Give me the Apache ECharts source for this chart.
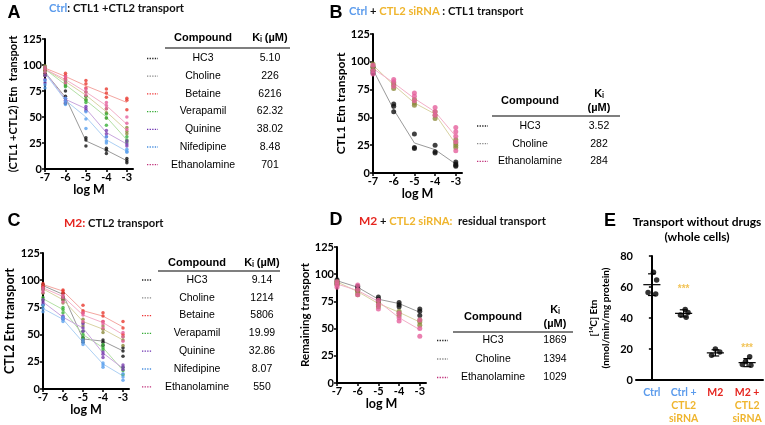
<!DOCTYPE html>
<html><head><meta charset="utf-8">
<script src="https://cdn.jsdelivr.net/npm/echarts@6/dist/echarts.min.js"></script>
<style>html,body{margin:0;padding:0;background:#fff}#c{width:765px;height:425px}</style>
</head><body><div id="c"></div>
<script>
// ---------------- DATA ----------------
const logM = [-7, -6, -5, -4, -3];
const xTicks = [-7, -6, -5, -4, -3];
const yTicksPct = [0, 25, 50, 75, 100, 125];

// Panel A: Ctrl (CTL1 + CTL2)
const compoundsA = ['HC3', 'Choline', 'Betaine', 'Verapamil', 'Quinine', 'Nifedipine', 'Ethanolamine'];
const kiA = ['5.10', '226', '6216', '62.32', '38.02', '8.48', '701'];
const meansA = [
  [93, 69, 27, 18, 8],
  [96, 84, 71, 55, 37],
  [97, 89, 80, 72, 64],
  [96, 81, 66, 50, 28],
  [93, 67, 58, 35, 24],
  [92, 66, 50, 28, 17],
  [96, 86, 74, 61, 43]
];
const repsA = [
  [[95, 92, 90], [75, 70, 63], [30, 28, 22], [20, 18, 15], [10, 8, 6]],
  [[97, 95, 90], [86, 83, 80], [74, 70, 67], [58, 54, 49], [40, 36, 34]],
  [[99, 97, 95], [92, 90, 87], [85, 82, 78], [77, 73, 69], [68, 66, 57]],
  [[99, 97, 94], [84, 81, 79], [70, 66, 64], [53, 49, 42], [31, 28, 26]],
  [[90, 86, 83], [68, 66, 64], [60, 58, 56], [37, 34, 31], [27, 24, 22]],
  [[85, 81, 78], [68, 65, 62], [55, 48, 39], [31, 27, 25], [19, 17, 16]],
  [[98, 96, 93], [89, 86, 83], [77, 74, 71], [64, 61, 58], [50, 44, 38]]
];

// Panel B: Ctrl + CTL2 siRNA (CTL1)
const compoundsB = ['HC3', 'Choline', 'Ethanolamine'];
const kiB = ['3.52', '282', '284'];
const meansB = [
  [93, 57, 27, 21, 8],
  [97, 79, 63, 53, 26],
  [94, 81, 67, 55, 33]
];
const repsB = [
  [[95, 92, 90], [62, 60, 55], [35, 23, 22], [25, 19, 18], [10, 8, 7, 6]],
  [[98, 96, 93], [81, 79, 76], [66, 63, 61], [55, 52, 49], [30, 27, 25, 23]],
  [[97, 92, 89], [84, 82, 78], [72, 69, 65], [59, 55, 52], [41, 37, 33, 28, 20]]
];

// Panel C: M2 (CTL2)
const compoundsC = ['HC3', 'Choline', 'Betaine', 'Verapamil', 'Quinine', 'Nifedipine', 'Ethanolamine'];
const kiC = ['9.14', '1214', '5806', '19.99', '32.86', '8.07', '550'];
const meansC = [
  [95, 87, 46, 44, 35],
  [92, 82, 62, 55, 45],
  [96, 90, 72, 67, 57],
  [83, 73, 50, 38, 17],
  [80, 66, 56, 33, 19],
  [74, 64, 43, 23, 12],
  [93, 85, 68, 61, 50]
];
const repsC = [
  [[96, 94, 92], [88, 84, 82], [47, 45, 43], [45, 43, 40], [38, 35, 30]],
  [[93, 91, 88], [85, 82, 79], [64, 61, 58], [58, 55, 52], [48, 45, 40]],
  [[97, 95, 94], [91, 90, 88], [77, 72, 70], [70, 67, 62], [62, 56, 50]],
  [[84, 82, 77], [75, 73, 70], [53, 50, 47], [41, 38, 36], [20, 17, 13]],
  [[82, 80, 78], [67, 66, 64], [60, 56, 53], [34, 32, 29], [22, 20, 18]],
  [[77, 74, 71], [66, 64, 62], [45, 43, 41], [24, 22, 20], [14, 11, 8]],
  [[93, 91, 89], [86, 84, 80], [70, 68, 62], [62, 60, 56], [52, 48, 44]]
];

// Panel D: M2 + CTL2 siRNA (residual)
const compoundsD = ['HC3', 'Choline', 'Ethanolamine'];
const kiD = ['1869', '1394', '1029'];
const meansD = [
  [94, 88, 77, 73, 65],
  [93, 84, 73, 65, 56],
  [91, 85, 75, 60, 49]
];
const repsD = [
  [[95, 93, 91], [89, 87, 85], [79, 77, 75], [74, 72, 70], [68, 66, 62]],
  [[93, 92, 90], [85, 83, 81], [74, 72, 70], [66, 64, 62], [58, 56, 53]],
  [[93, 90, 88], [90, 86, 81], [76, 72, 68], [64, 60, 57], [58, 50, 43]]
];

// Panel E: Transport without drugs
const catsE = ['Ctrl', 'Ctrl +\nCTL2\nsiRNA', 'M2', 'M2 +\nCTL2\nsiRNA'];
const valsE = [[69.5, 64.5, 56.5, 55.5], [45.5, 43.5, 42, 40.5], [20, 18, 16], [15, 12, 10, 9.5]];
const jitterE = [[0.05, 0.15, -0.12, 0.12], [0.05, 0.14, -0.1, 0.08], [0.0, 0.14, -0.12], [0.08, -0.05, -0.15, 0.12]];
const meanE = [61.5, 43, 17.5, 11.2];
const sdE = [7, 2.3, 2, 2.6];
const starsE = [[1, 58.5], [3, 20.5]];

// ---------------- STYLE ----------------
const BLUE = '#5b9bec', YEL = '#efb52e', RED = '#e5251f';
const pointColor = {HC3: '#111', Choline: '#8c8a3c', Betaine: '#e8392f', Verapamil: '#39b03a',
  Quinine: '#7b3fb0', Nifedipine: '#5aa0ee', Ethanolamine: '#e5609c'};
const lineColor = {HC3: '#9a9a9a', Choline: '#d9d3a3', Betaine: '#f4a6a1', Verapamil: '#b3e0a5',
  Quinine: '#c9a6de', Nifedipine: '#acd0f4', Ethanolamine: '#f3afc8'};
const keyColor = {HC3: '#222', Choline: '#888', Betaine: '#e33', Verapamil: '#3a3',
  Quinine: '#6a2fb0', Nifedipine: '#4a90e0', Ethanolamine: '#c0307a'};
const AX_FONT = 'Lato';
const TB_FONT = 'Liberation Sans';

const grids = [
  {left: 45, top: 39, width: 88, height: 130},
  {left: 373, top: 34, width: 89, height: 139},
  {left: 43, top: 253, width: 86, height: 136},
  {left: 337, top: 247, width: 89, height: 136},
  {left: 636, top: 256, width: 127, height: 128}
];
const yNames = ['(CTL1 +CTL2) Etn  transport', 'CTL1 Etn transport', 'CTL2 Etn transport', 'Remaining transport'];
const yNameSize = [11, 12, 12.5, 11.5];
const yNameGap = [25, 22, 23, 20];

const axisLine = {show: true, lineStyle: {color: '#000', width: 2}};
const axisTick = {show: true, length: 3, lineStyle: {color: '#000', width: 1.5}};
const lbl = {color: '#000', fontWeight: 'bold', fontSize: 11, fontFamily: AX_FONT, margin: 3};

const xAxes = [], yAxes = [], series = [];
for (let g = 0; g < 4; g++) {
  xAxes.push({gridIndex: g, type: 'value', min: -7, max: -2.7,
    axisLine, axisTick: Object.assign({customValues: xTicks}, axisTick),
    axisLabel: Object.assign({customValues: xTicks}, lbl), splitLine: {show: false},
    name: 'log M', nameLocation: 'middle', nameGap: 13,
    nameTextStyle: {color: '#000', fontWeight: 'bold', fontSize: 12.5, fontFamily: AX_FONT}});
  yAxes.push({gridIndex: g, type: 'value', min: 0, max: 125, interval: 25,
    axisLine, axisTick, axisLabel: lbl, splitLine: {show: false},
    name: yNames[g], nameLocation: 'middle', nameRotate: 90, nameGap: yNameGap[g],
    nameTextStyle: {color: '#000', fontWeight: 'bold', fontSize: yNameSize[g], fontFamily: AX_FONT}});
}
// Panel E axes
xAxes.push({gridIndex: 4, type: 'category', data: catsE, axisLine, axisTick: {show: false},
  axisLabel: {interval: 0, margin: 6, lineHeight: 13, fontFamily: AX_FONT, fontWeight: 'bold', fontSize: 10.5,
    formatter: function (v, i) {
      const lines = v.split('\n');
      const keys = [['bl'], ['bl', 'yl', 'yl'], ['rd'], ['rd', 'yl', 'yl']][i];
      return lines.map((t, k) => '{' + keys[k] + '|' + t + '}').join('\n');
    },
    rich: {bl: {color: BLUE, fontWeight: 'bold', fontSize: 10.5, fontFamily: AX_FONT, lineHeight: 13},
      yl: {color: YEL, fontWeight: 'bold', fontSize: 10.5, fontFamily: AX_FONT, lineHeight: 13},
      rd: {color: RED, fontWeight: 'bold', fontSize: 10.5, fontFamily: AX_FONT, lineHeight: 13}}}});
xAxes.push({gridIndex: 4, type: 'value', min: -0.5, max: 3.5, show: false});
yAxes.push({gridIndex: 4, type: 'value', min: 0, max: 80, interval: 20, axisLine, axisTick,
  axisLabel: lbl, splitLine: {show: false},
  name: '[¹⁴C] Etn\n(nmol/min/mg protein)', nameLocation: 'middle', nameRotate: 90, nameGap: 24,
  nameTextStyle: {color: '#000', fontWeight: 'bold', fontSize: 10, lineHeight: 12, fontFamily: AX_FONT}});

function addPanel(g, names, means, reps, sym) {
  names.forEach((n, i) => {
    series.push({type: 'line', xAxisIndex: g, yAxisIndex: g, symbol: 'none', z: 2, silent: true,
      lineStyle: {color: lineColor[n], width: 1}, data: logM.map((x, j) => [x, means[i][j]])});
  });
  names.forEach((n, i) => {
    const d = [];
    reps[i].forEach((arr, j) => arr.forEach(v => d.push([logM[j], v])));
    series.push({type: 'scatter', xAxisIndex: g, yAxisIndex: g, symbol: 'circle', symbolSize: sym, z: 3,
      itemStyle: {color: pointColor[n]}, data: d});
  });
}
addPanel(0, compoundsA, meansA, repsA, 3.5);
addPanel(1, compoundsB, meansB, repsB, 5);
addPanel(2, compoundsC, meansC, repsC, 3.5);
addPanel(3, compoundsD, meansD, repsD, 5);

// Panel E series
const ptsE = [];
valsE.forEach((arr, k) => arr.forEach((v, m) => ptsE.push([k + jitterE[k][m], v])));
series.push({type: 'scatter', xAxisIndex: 5, yAxisIndex: 4, symbolSize: 5.5, itemStyle: {color: '#000'}, data: ptsE, z: 3});
series.push({type: 'custom', xAxisIndex: 5, yAxisIndex: 4, z: 4,
  data: meanE.map((m, k) => [k, m, sdE[k]]),
  renderItem: function (params, api) {
    const k = api.value(0), m = api.value(1), s = api.value(2);
    const a = api.coord([k - 0.27, m]), b = api.coord([k + 0.27, m]);
    const t = api.coord([k, m + s]), u = api.coord([k, m - s]);
    const c1 = api.coord([k - 0.12, m + s]), c2 = api.coord([k + 0.12, m + s]);
    const d1 = api.coord([k - 0.12, m - s]), d2 = api.coord([k + 0.12, m - s]);
    const st = {stroke: '#000', lineWidth: 1.2};
    return {type: 'group', children: [
      {type: 'line', shape: {x1: a[0], y1: a[1], x2: b[0], y2: b[1]}, style: st},
      {type: 'line', shape: {x1: t[0], y1: t[1], x2: u[0], y2: u[1]}, style: st},
      {type: 'line', shape: {x1: c1[0], y1: c1[1], x2: c2[0], y2: c2[1]}, style: st},
      {type: 'line', shape: {x1: d1[0], y1: d1[1], x2: d2[0], y2: d2[1]}, style: st}
    ]};
  }});
series.push({type: 'scatter', xAxisIndex: 5, yAxisIndex: 4, symbolSize: 1, itemStyle: {color: 'rgba(0,0,0,0)'},
  data: starsE, label: {show: true, position: 'inside', formatter: '***', color: YEL, fontWeight: 'bold', fontSize: 10}});

// ---------------- TABLES (text) ----------------
const graphic = [];
function txt(x, y, s, font, color, align) {
  graphic.push({type: 'text', x: x, y: y, silent: true, style: {text: s, font: font, fill: color || '#000',
    textAlign: align || 'center', textVerticalAlign: 'middle', align: align || 'center', verticalAlign: 'middle'}});
}
function table(t, names, kis) {
  txt(t.cx, t.hy, 'Compound', 'bold 11px ' + TB_FONT);
  if (t.kiTwo) {
    txt(t.kx, t.hy - 7, 'Kᵢ', 'bold 11px ' + TB_FONT);
    txt(t.kx, t.hy + 7, '(µM)', 'bold 11px ' + TB_FONT);
  } else {
    txt(t.kx, t.hy, 'Kᵢ (µM)', 'bold 11px ' + TB_FONT);
  }
  graphic.push({type: 'line', silent: true, shape: {x1: t.r1, y1: t.ry, x2: t.r2, y2: t.ry},
    style: {stroke: '#555', lineWidth: 1.5}});
  names.forEach((n, i) => {
    const y = t.y0 + i * t.dy;
    graphic.push({type: 'line', silent: true, shape: {x1: t.m1, y1: y, x2: t.m2, y2: y},
      style: {stroke: keyColor[n], lineWidth: 1.3, lineDash: [1.3, 1.3]}});
    txt(t.cx, y, n, '10.5px ' + TB_FONT);
    txt(t.kx, y, kis[i], '10.5px ' + TB_FONT);
  });
}
table({cx: 203, kx: 270, hy: 38, ry: 48, r1: 165, r2: 290, y0: 58.5, dy: 17.7, m1: 147, m2: 158}, compoundsA, kiA);
table({cx: 530, kx: 599, hy: 101, kiTwo: true, ry: 116, r1: 492, r2: 620, y0: 126, dy: 17.7, m1: 477, m2: 488}, compoundsB, kiB);
table({cx: 197, kx: 262, hy: 263, ry: 271, r1: 158, r2: 280, y0: 280, dy: 17.8, m1: 142, m2: 152}, compoundsC, kiC);
table({cx: 493, kx: 555, hy: 317, kiTwo: true, ry: 332, r1: 453, r2: 573, y0: 340.5, dy: 18.5, m1: 437, m2: 448}, compoundsD, kiD);

// Panel letters and E title
const LET = 'bold 18px ' + TB_FONT;
txt(14, 13, 'A', LET); txt(336, 13, 'B', LET); txt(14, 221, 'C', LET); txt(336, 220, 'D', LET); txt(610, 221, 'E', LET);
txt(697, 222, 'Transport without drugs', 'bold 12px ' + AX_FONT);
txt(697, 237, '(whole cells)', 'bold 12px ' + AX_FONT);

// ---------------- TITLES (rich) ----------------
const rich = {
  b: {color: BLUE, fontWeight: 'bold', fontSize: 11.2, fontFamily: AX_FONT},
  y: {color: YEL, fontWeight: 'bold', fontSize: 11.2, fontFamily: AX_FONT},
  r: {color: RED, fontWeight: 'bold', fontSize: 12, fontFamily: AX_FONT},
  k: {color: '#111', fontWeight: 'bold', fontSize: 11.2, fontFamily: AX_FONT}
};
const titles = [
  {text: '{b|Ctrl}{k|: CTL1 +CTL2 transport}', left: 49, top: 3},
  {text: '{b|Ctrl}{k| + }{y|CTL2 siRNA}{k| : CTL1 transport}', left: 349, top: 6},
  {text: '{r|M2:}{k| CTL2 transport}', left: 64, top: 217},
  {text: '{r|M2}{k| + }{y|CTL2 siRNA:}{k|  residual transport}', left: 359, top: 215}
].map(t => Object.assign(t, {padding: 0, textStyle: {rich: rich}}));

const chart = echarts.init(document.getElementById('c'), null, {renderer: 'canvas'});
chart.setOption({
  animation: false,
  backgroundColor: '#fff',
  title: titles,
  grid: grids,
  xAxis: xAxes,
  yAxis: yAxes,
  series: series,
  graphic: graphic
});
</script></body></html>
